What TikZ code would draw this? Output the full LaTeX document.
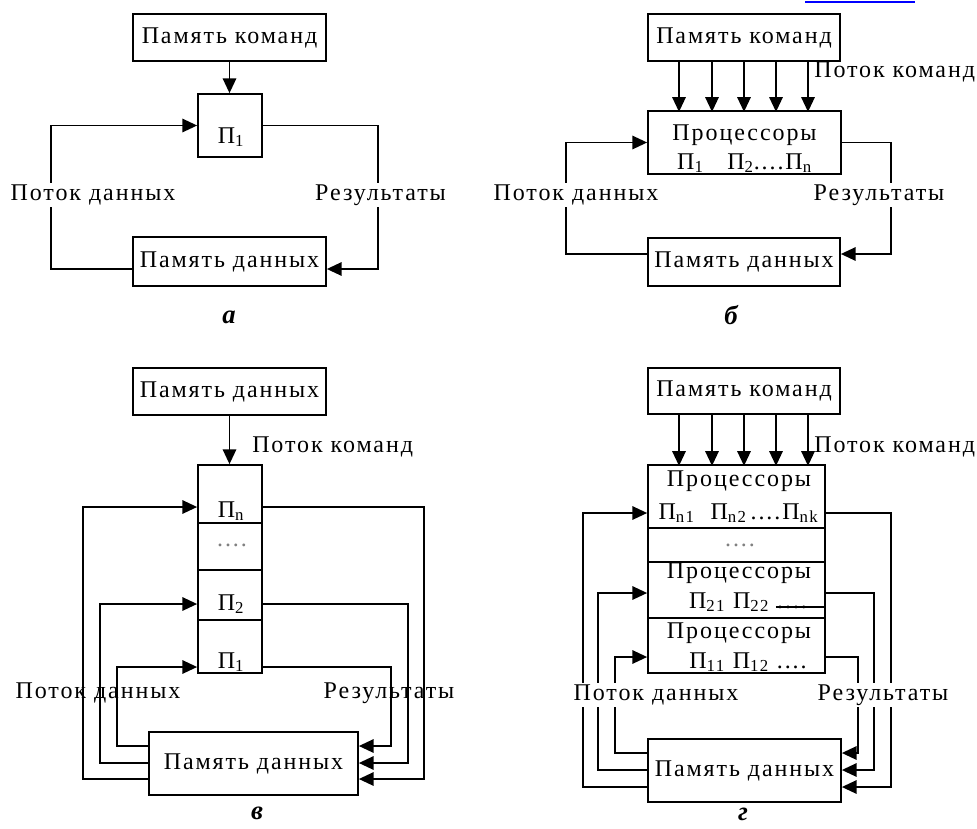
\documentclass[tikz,border=0pt]{standalone}
\usepackage{fontspec}
\setmainfont{Liberation Serif}[LetterSpace=8]
\usetikzlibrary{arrows.meta,calc}

\newcommand{\lbl}{\fontsize{18}{22}\selectfont}
\newcommand{\sub}[1]{\textsubscript{#1}}

\tikzset{
  box/.style 2 args={draw, line width=1.3pt, minimum width=#1*0.75pt,
    minimum height=#2*0.75pt, inner sep=0pt, font=\lbl},
  flow/.style={line width=1.3pt, -{Triangle[length=11pt,width=10pt]}},
  wire/.style={line width=1.3pt},
  txt/.style={font=\lbl, inner sep=0pt, anchor=base},
  tag/.style={font=\lbl, inner sep=1.5pt},
  caption/.style={font=\fontsize{20}{20}\selectfont\bfseries\itshape,
    inner sep=0pt, anchor=base},
}

\begin{document}
\begin{tikzpicture}[x=0.75pt,y=-0.75pt]
  \useasboundingbox (0,0) rectangle (977,828);
  \draw[blue, line width=1.5pt] (805,2) -- (915,2);

  % a: one processor
  \node[box={193}{47}] (cmdA) at (229.5,37.5) {Память команд};
  \node[box={64}{63}] (pA) at (230,125.5) {};
  \node[txt] (pAt) at (231,143) {П\sub{1}};
  \node[box={193}{49}] (dataA) at (229.5,261.5) {Память данных};
  \draw[flow] (cmdA.south) -- (cmdA.south |- pA.north);
  \draw[flow] ($(dataA.west)+(0,7.5)$) -- ++(-81,0) |- (pA.west);
  \draw[flow] (pA.east) -- ++(115,0) |- ($(dataA.east)+(0,7.5)$);
  \node[tag, fill=white] (inA) at (93,195) {Поток данных};
  \node[tag, fill=white] (outA) at (380.5,195) {Результаты};
  \node[caption] (capA) at (229,323) {а};

  % b: processors in parallel
  \node[box={192}{47}] (cmdB) at (744,37.5) {Память команд};
  \node[box={193}{63}] (pB) at (744.5,142.5) {};
  \node[txt] (pBa) at (744.5,140) {Процессоры};
  \node[txt] (pBb) at (744.5,169) {П\sub{1}\ \ \ П\sub{2}....П\sub{n}};
  \node[box={192}{48}] (dataB) at (744,262) {Память данных};
  \foreach \dx in {-65,-32,0,32,64}
    \draw[flow] ($(cmdB.south)+(\dx,0)$) -- ++(0,50);
  \node[tag, anchor=west] (cmdBt) at (812,72) {Поток команд};
  \draw[flow] ($(dataB.west)+(0,-8)$) -- ++(-81,0) |- (pB.west);
  \draw[flow] (pB.east) -- ++(49,0) |- ($(dataB.east)+(0,-8)$);
  \node[tag, fill=white] (inB) at (576,195) {Поток данных};
  \node[tag, fill=white] (outB) at (879,195) {Результаты};
  \node[caption] (capB) at (731,324) {б};

  % c: pipeline of processors
  \node[box={193}{47}] (cmdV) at (229.5,391.5) {Память данных};
  \node[box={64}{58}] (cvN) at (230,494) {};
  \node[box={64}{47}] (cvD) at (230,546.5) {};
  \node[box={64}{50}] (cv2) at (230,595) {};
  \node[box={64}{53}] (cv1) at (230,646.5) {};
  \node[txt] (tvN) at (231,517) {П\sub{n}};
  \node[txt, gray] (tvD) at (232,546) {....};
  \node[txt] (tv2) at (231,610) {П\sub{2}};
  \node[txt] (tv1) at (231,668) {П\sub{1}};
  \node[box={209}{63}] (dataV) at (253.5,763.5) {Память данных};
  \draw[flow] (cmdV.south) -- (cmdV.south |- cvN.north);
  \node[tag, anchor=west] (cmdVt) at (250,447) {Поток команд};
  \draw[flow] ($(dataV.west)+(0,15.5)$) -- ++(-65,0) |- ($(cvN.west)+(0,13)$);
  \draw[flow] ($(dataV.west)+(0,-0.5)$) -- ++(-48,0) |- ($(cv2.west)+(0,9)$);
  \draw[flow] ($(dataV.west)+(0,-17.5)$) -- ++(-31,0) |- ($(cv1.west)+(0,20.5)$);
  \draw[flow] ($(cvN.east)+(0,13)$) -- ++(161,0) |- ($(dataV.east)+(0,15.5)$);
  \draw[flow] ($(cv2.east)+(0,9)$) -- ++(145,0) |- ($(dataV.east)+(0,-0.5)$);
  \draw[flow] ($(cv1.east)+(0,20.5)$) -- ++(128,0) |- ($(dataV.east)+(0,-17.5)$);
  \node[tag] (inV) at (98,693) {Поток данных};
  \node[tag] (outV) at (389,693) {Результаты};
  \node[caption] (capV) at (257,819) {в};

  % d: matrix of processors
  \node[box={192}{46}] (cmdG) at (744,391) {Память команд};
  \node[box={177}{63}] (cg1) at (736.5,496.5) {};
  \node[box={177}{34}] (cgD) at (736.5,545) {};
  \node[box={177}{56}] (cg2) at (736.5,590) {};
  \node[box={177}{55}] (cg3) at (736.5,645.5) {};
  \node[txt] (g1a) at (739,486) {Процессоры};
  \node[txt] (g1b) at (738.5,519) {П\sub{n1}\ \ П\sub{n2}\,....П\sub{nk}};
  \node[txt, gray] (gDt) at (740,546) {....};
  \node[txt] (g2a) at (739,578) {Процессоры};
  \node[txt] (g2b) at (748,608) {П\sub{21} П\sub{22} ....};
  \node[txt] (g3a) at (739,638) {Процессоры};
  \node[txt] (g3b) at (748,668) {П\sub{11} П\sub{12} ....};
  \draw[wire] ($(cg2.east)+(-50,17)$) -- ($(cg2.east)+(0,17)$);
  \node[box={193}{63}] (dataG) at (744.5,770.5) {Память данных};
  \foreach \dx in {-65,-32,0,32,64}
    \draw[flow] ($(cmdG.south)+(\dx,0)$) -- ++(0,51);
  \node[tag, anchor=west] (cmdGt) at (812,447) {Поток команд};
  \draw[flow] ($(dataG.west)+(0,16.5)$) -- ++(-64,0) |- ($(cg1.west)+(0,16.5)$);
  \draw[flow] ($(dataG.west)+(0,-0.5)$) -- ++(-49,0) |- ($(cg2.west)+(0,3)$);
  \draw[flow] ($(dataG.west)+(0,-17.5)$) -- ++(-32,0) |- ($(cg3.west)+(0,11.5)$);
  \draw[flow] ($(cg1.east)+(0,16.5)$) -- ++(65,0) |- ($(dataG.east)+(0,16.5)$);
  \draw[flow] ($(cg2.east)+(0,3)$) -- ++(48,0) |- ($(dataG.east)+(0,-0.5)$);
  \draw[flow] ($(cg3.east)+(0,11.5)$) -- ++(32,0) |- ($(dataG.east)+(0,-17.5)$);
  \node[tag, fill=white] (inG) at (656,695) {Поток данных};
  \node[tag, fill=white] (outG) at (883,695) {Результаты};
  \node[caption] (capG) at (743,820) {г};
\end{tikzpicture}
\end{document}
